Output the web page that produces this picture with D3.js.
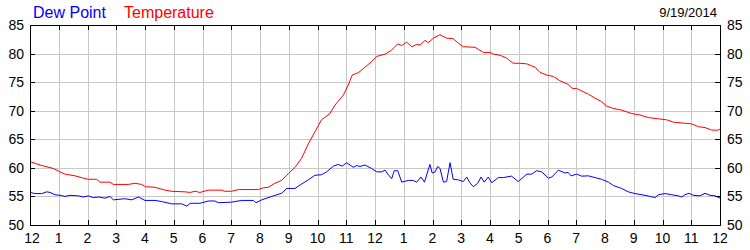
<!DOCTYPE html>
<html><head><meta charset="utf-8">
<script src="https://cdn.jsdelivr.net/npm/d3@7/dist/d3.min.js"></script>
<style>body{margin:0;background:#fff}svg{display:block}text{font-family:Arial,"Liberation Sans",sans-serif}</style>
</head><body><svg id="c" width="750" height="250"></svg>
<script>
const hourTicks = d3.range(0, 25);
const hourLabels = ["12","1","2","3","4","5","6","7","8","9","10","11","12","1","2","3","4","5","6","7","8","9","10","11","12"];
const yTicks = [50, 55, 60, 65, 70, 75, 80, 85];
const seriesNames = ["Dew Point", "Temperature"];
const seriesColors = ["#0000ff", "#ff0000"];
const dateLabel = "9/19/2014";

const tempHours = [0,0.23,0.41,0.81,1.04,1.22,1.57,1.85,2.03,2.32,2.43,2.78,2.90,3.42,3.65,3.88,4.02,4.35,4.70,4.93,5.39,5.57,5.74,5.91,6.20,6.67,6.78,7.01,7.25,7.94,8.12,8.29,8.52,8.75,8.99,9.22,9.45,9.68,9.91,10.14,10.43,10.61,10.90,11.07,11.21,11.42,11.65,11.88,12.06,12.35,12.58,12.79,12.93,13.10,13.28,13.45,13.57,13.74,13.86,14.03,14.26,14.49,14.72,14.90,15.07,15.48,15.77,16.0,16.12,16.35,16.58,16.81,17.04,17.28,17.57,17.74,17.97,18.20,18.43,18.72,18.86,19.01,19.19,19.42,19.65,19.88,20.06,20.29,20.58,20.93,21.22,21.51,21.91,22.15,22.38,22.78,23.01,23.25,23.48,23.71,23.94,24.0];
const tempValues = [61.1,60.7,60.4,59.9,59.3,58.9,58.6,58.2,58.0,58.0,57.5,57.5,57.1,57.1,57.3,57.1,56.7,56.6,56.1,55.9,55.8,55.7,55.9,55.7,56.1,56.1,55.9,55.9,56.2,56.2,56.5,56.6,57.3,57.8,59.0,60.1,61.7,64.2,66.3,68.4,69.5,71.0,72.75,74.5,76.25,76.65,77.6,78.6,79.5,79.9,80.6,81.7,81.4,82.0,81.2,81.6,81.5,82.3,81.9,82.7,83.3,82.7,82.6,81.8,81.2,81.1,80.2,80.2,79.9,79.7,79.2,78.3,78.3,78.2,77.6,76.7,76.25,76.0,75.25,74.6,73.9,73.9,73.45,72.9,72.2,71.6,70.8,70.4,70.1,69.5,69.25,68.8,68.55,68.4,68.0,67.8,67.7,67.2,67.05,66.6,66.6,66.8];

const dewHours = [0,0.17,0.41,0.58,0.70,0.87,1.04,1.22,1.39,1.68,1.85,2.03,2.20,2.38,2.61,2.78,2.90,3.30,3.54,3.77,4.0,4.35,4.58,4.93,5.28,5.45,5.57,5.91,6.20,6.43,6.55,7.01,7.36,7.77,7.86,8.06,8.41,8.75,8.93,9.22,9.39,9.68,9.91,10.14,10.32,10.55,10.72,10.86,11.01,11.25,11.36,11.48,11.65,11.88,12.06,12.23,12.35,12.46,12.58,12.67,12.79,12.93,13.16,13.33,13.45,13.60,13.72,13.91,13.99,14.09,14.18,14.26,14.38,14.49,14.61,14.72,14.90,15.07,15.19,15.30,15.42,15.57,15.69,15.80,15.94,16.06,16.29,16.46,16.75,16.98,17.28,17.45,17.62,17.80,18.03,18.15,18.38,18.61,18.72,18.82,19.01,19.19,19.42,19.65,19.88,20.12,20.29,20.58,20.81,21.04,21.28,21.57,21.74,21.86,22.09,22.32,22.55,22.67,22.78,22.92,23.07,23.30,23.48,23.65,23.83,24.0];
const dewValues = [55.7,55.5,55.5,55.8,55.7,55.3,55.2,55.0,55.2,55.1,54.9,55.1,54.8,54.9,54.7,55.0,54.4,54.6,54.4,54.9,54.3,54.3,54.1,53.7,53.7,53.3,53.8,53.8,54.2,54.2,53.9,54.0,54.3,54.3,53.9,54.4,55.0,55.55,56.4,56.4,57.0,57.9,58.7,58.8,59.3,60.3,60.6,60.3,60.9,60.1,60.4,60.25,60.5,59.9,59.3,59.3,59.6,58.8,58.1,59.5,59.5,57.5,57.8,57.8,57.5,58.4,57.5,60.6,59.1,59.3,60.25,59.9,57.5,57.6,60.9,58.0,57.9,57.6,58.4,57.4,56.7,57.3,58.4,57.5,58.4,57.4,58.3,58.3,58.55,57.6,58.9,58.9,59.5,59.3,58.2,58.4,59.6,59.1,59.2,58.6,58.9,58.55,58.6,58.3,58.0,57.5,56.9,56.4,55.8,55.5,55.3,55.0,54.8,55.3,55.5,55.3,55.1,54.9,55.3,55.55,55.2,55.1,55.55,55.2,55.1,54.7];

const svg = d3.select("#c");
const L = 30, R = 720, T = 25, B = 225;
const x = d3.scaleLinear().domain([0, 24]).range([L, R]);
const y = d3.scaleLinear().domain([50, 85]).range([B, T]);

svg.append("rect").attr("width", 750).attr("height", 250).attr("fill", "#fff");

// grid
const g = svg.append("g").attr("shape-rendering", "crispEdges");
g.selectAll(".vg").data(hourTicks.slice(1, -1)).join("line")
  .attr("x1", d => Math.round(x(d)) + 0.5).attr("x2", d => Math.round(x(d)) + 0.5)
  .attr("y1", T).attr("y2", B).attr("stroke", "#c8c8c8");
g.selectAll(".hg").data(yTicks.slice(1, -1)).join("line")
  .attr("y1", d => Math.round(y(d)) + 0.5).attr("y2", d => Math.round(y(d)) + 0.5)
  .attr("x1", L).attr("x2", R).attr("stroke", "#c8c8c8");

// tick marks (inward)
const tk = svg.append("g").attr("shape-rendering", "crispEdges").attr("stroke", "#000");
hourTicks.forEach(d => {
  const xx = Math.round(x(d)) + 0.5;
  tk.append("line").attr("x1", xx).attr("x2", xx).attr("y1", B).attr("y2", B - 5);
  tk.append("line").attr("x1", xx).attr("x2", xx).attr("y1", T).attr("y2", T + 5);
});
yTicks.forEach(d => {
  const yy = Math.round(y(d)) + 0.5;
  tk.append("line").attr("x1", L).attr("x2", L + 5).attr("y1", yy).attr("y2", yy);
  tk.append("line").attr("x1", R).attr("x2", R - 5).attr("y1", yy).attr("y2", yy);
});

// clip
svg.append("clipPath").attr("id", "clip").append("rect")
  .attr("x", L).attr("y", T).attr("width", R - L).attr("height", B - T);

const line = d3.line().x(d => x(d[0])).y(d => y(d[1]));
const dewData = dewHours.map((h, i) => [h, dewValues[i]]);
const tempData = tempHours.map((h, i) => [h, tempValues[i]]);
[dewData, tempData].forEach((data, i) => {
  svg.append("path").attr("d", line(data)).attr("fill", "none")
    .attr("stroke", seriesColors[i]).attr("stroke-width", 1)
    .attr("clip-path", "url(#clip)");
});

// border
svg.append("rect").attr("x", L + 0.5).attr("y", T + 0.5).attr("width", R - L).attr("height", B - T)
  .attr("fill", "none").attr("stroke", "#000").attr("shape-rendering", "crispEdges");

// axis labels
const lab = svg.append("g").attr("font-size", 14).attr("fill", "#000");
yTicks.forEach(d => {
  lab.append("text").attr("x", L - 6).attr("y", y(d) + 5)
    .attr("text-anchor", "end").text(d);
  lab.append("text").attr("x", R + 7).attr("y", y(d) + 5)
    .attr("text-anchor", "start").text(d);
});
hourTicks.forEach((d, i) => {
  lab.append("text").attr("x", x(d) + (i === 0 ? 2 : 0)).attr("y", 243)
    .attr("text-anchor", "middle").text(hourLabels[i]);
});

// legend
svg.append("text").attr("x", 33).attr("y", 18).attr("font-size", 16).attr("fill", seriesColors[0]).text(seriesNames[0]);
svg.append("text").attr("x", 124).attr("y", 18).attr("font-size", 16).attr("fill", seriesColors[1]).text(seriesNames[1]);
svg.append("text").attr("x", 717).attr("y", 17).attr("font-size", 13).attr("text-anchor", "end").attr("fill", "#000").text(dateLabel);
</script></body></html>
